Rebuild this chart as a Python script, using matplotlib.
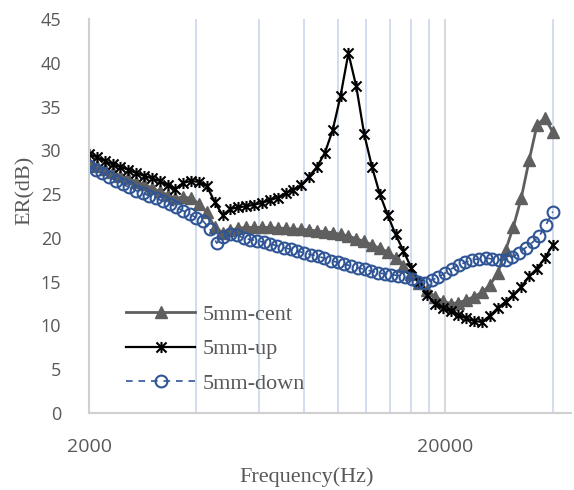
import matplotlib
matplotlib.use('Agg')
import matplotlib.pyplot as plt
from matplotlib.path import Path

# frequency grid shared by 5mm-cent and 5mm-up (Hz)
freq_a = [2000, 2104, 2214, 2329, 2450, 2578, 2712, 2853, 3002, 3158,
          3323, 3496, 3678, 3869, 4071, 4283, 4506, 4740, 4987, 5247,
          5522, 5809, 6112, 6430, 6765, 7117, 7488, 7878, 8288, 8720,
          9175, 9652, 10155, 10684, 11240, 11826, 12442, 13090, 13772, 14489,
          15245, 16039, 16874, 17753, 18678, 19651, 20674, 21751, 22884, 24076,
          25330, 26650, 28038, 29498, 31035, 32651, 34352, 36141, 38024, 40000]

cent = [28.6, 28.2, 27.9, 27.5, 27.1, 26.8, 26.4, 26.1, 25.7, 25.3,
        24.9, 24.5, 24.7, 24.5, 23.9, 22.9, 21.2, 20.6, 20.9, 21.1,
        21.2, 21.2, 21.2, 21.2, 21.1, 21.1, 21.0, 21.0, 20.9, 20.8,
        20.7, 20.6, 20.4, 20.2, 19.9, 19.6, 19.2, 18.8, 18.4, 17.7,
        16.8, 15.9, 14.9, 14.0, 13.3, 12.8, 12.5, 12.6, 12.9, 13.3,
        13.8, 14.6, 16.0, 18.6, 21.3, 24.6, 28.9, 32.9, 33.7, 32.1]

up = [29.6, 29.2, 28.8, 28.4, 28.1, 27.8, 27.4, 27.1, 26.8, 26.5,
      26.0, 25.6, 26.3, 26.5, 26.4, 25.9, 24.1, 22.6, 23.3, 23.5,
      23.6, 23.8, 24.0, 24.3, 24.6, 25.1, 25.5, 26.0, 27.0, 28.1,
      29.7, 32.3, 36.2, 41.1, 37.3, 31.9, 28.1, 25.0, 22.6, 20.4,
      18.5, 16.6, 15.0, 13.5, 12.5, 12.0, 11.6, 11.2, 10.8, 10.5,
      10.4, 11.1, 12.0, 12.7, 13.5, 14.4, 15.6, 16.5, 17.7, 19.2]

# 5mm-down was sampled on a finer grid
freq_b = [2000, 2089, 2181, 2278, 2379, 2485, 2595, 2710, 2830, 2956,
          3087, 3224, 3367, 3516, 3672, 3836, 4005, 4183, 4369, 4562,
          4766, 4977, 5198, 5428, 5669, 5921, 6184, 6458, 6744, 7044,
          7356, 7683, 8024, 8380, 8751, 9140, 9545, 9969, 10411, 10873,
          11356, 11860, 12386, 12936, 13510, 14109, 14735, 15389, 16072, 16785,
          17530, 18308, 19120, 19969, 20855, 21780, 22747, 23756, 24810, 25911,
          27061, 28262, 29516, 30826, 32194, 33622, 35114, 36672, 38300, 40000]

down = [28.2, 27.8, 27.4, 27.0, 26.5, 26.1, 25.8, 25.4, 25.1, 24.8,
        24.5, 24.2, 23.9, 23.5, 23.1, 22.7, 22.3, 21.9, 21.0, 19.4,
        20.1, 20.4, 20.3, 20.0, 19.8, 19.7, 19.5, 19.3, 19.1, 18.9,
        18.7, 18.5, 18.3, 18.1, 17.9, 17.7, 17.4, 17.2, 17.0, 16.8,
        16.6, 16.4, 16.2, 16.0, 15.9, 15.8, 15.7, 15.5, 15.3, 15.0,
        14.9, 15.2, 15.5, 16.0, 16.5, 16.9, 17.2, 17.5, 17.6, 17.7,
        17.6, 17.5, 17.5, 17.8, 18.3, 18.9, 19.5, 20.2, 21.5, 23.0]

xticks = [2000, 20000]
xtick_labels = ['2000', '20000']
minor_grid = [4000, 6000, 8000, 10000, 12000, 14000, 16000, 18000, 40000]
yticks = [0, 5, 10, 15, 20, 25, 30, 35, 40, 45]

# excel-like star marker (x with a vertical bar)
star = Path([(-1, -1), (1, 1), (-1, 1), (1, -1), (0, -1.1), (0, 1.1)],
            [Path.MOVETO, Path.LINETO, Path.MOVETO, Path.LINETO, Path.MOVETO, Path.LINETO])

txt = '#595959'
serif = 'Liberation Serif'
fig = plt.figure(figsize=(5.74, 4.9), dpi=100)
ax = fig.add_axes([89/574, 77/490, 482/574, 394/490])

ax.plot(freq_a, cent, color='#5f5f5f', lw=2, marker='^', ms=9,
        mfc='#5f5f5f', mec='#5f5f5f', label='5mm-cent')
ax.plot(freq_a, up, color='black', lw=1.6, marker=star, ms=8,
        mew=1.5, mec='black', label='5mm-up')
ax.plot(freq_b, down, color='#2F5597', lw=1.2, ls=(0, (4, 3.5)), marker='o', ms=8.5,
        mfc='none', mec='#2F5597', mew=1.5, label='5mm-down')

ax.set_xscale('log')
ax.set_xlim(2000, 45000)
ax.set_ylim(0, 45)
ax.set_xticks(xticks)
ax.set_xticklabels(xtick_labels)
ax.set_xticks(minor_grid, minor=True)
ax.xaxis.set_minor_formatter(plt.NullFormatter())
ax.set_yticks(yticks)
ax.tick_params(axis='both', which='both', length=0, colors=txt)
ax.tick_params(axis='y', labelsize=13, pad=20)
ax.tick_params(axis='x', labelsize=14, pad=18)
for lab in ax.get_xticklabels() + ax.get_yticklabels():
    lab.set_fontfamily('Open Sans')

ax.grid(which='major', axis='x', color='#d9d9d9', lw=1.5)
ax.grid(which='minor', axis='x', color='#c9d7ec', lw=1.2)
ax.set_axisbelow(True)
for s in ['top', 'right']:
    ax.spines[s].set_visible(False)
for s in ['left', 'bottom']:
    ax.spines[s].set_color('#d0d0d0')
    ax.spines[s].set_linewidth(1.5)

ax.set_xlabel('Frequency(Hz)', fontsize=16, color=txt, family=serif)
ax.set_ylabel('ER(dB)', fontsize=16, color=txt, family=serif)
ax.xaxis.set_label_coords(0.451, -0.137)
ax.yaxis.set_label_coords(-0.112, 0.566)

leg = ax.legend(loc='upper left', bbox_to_anchor=(0.077, 0.276), frameon=False,
                borderaxespad=0, borderpad=0, handlelength=3.1, handletextpad=0.36,
                labelspacing=0.63, prop={'family': serif, 'size': 16})
for t in leg.get_texts():
    t.set_color(txt)

fig.savefig('out.png', dpi=100)
